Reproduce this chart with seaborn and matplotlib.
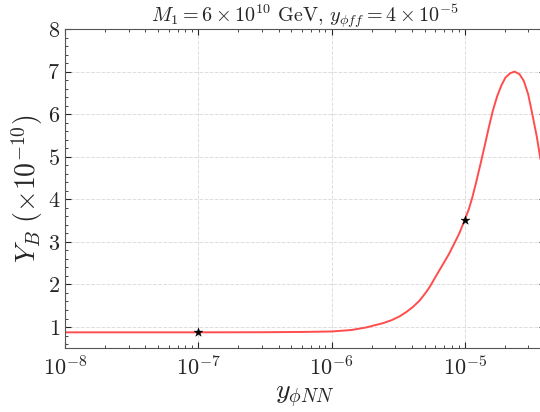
import numpy as np
import pandas as pd
import matplotlib
matplotlib.use("Agg")
import matplotlib.pyplot as plt
import seaborn as sns

# Data (log10 of y_phiNN, Y_B in units of 1e-10)
log_y_phiNN = [-8.0, -7.0, -6.5, -6.2, -6.0, -5.85, -5.74, -5.615, -5.55, -5.49,
               -5.44, -5.39, -5.34, -5.29, -5.26, -5.2325, -5.195, -5.1575, -5.12, -5.0825,
               -5.04, -5.0, -4.97, -4.945, -4.915, -4.8825, -4.85, -4.82, -4.79, -4.7575,
               -4.725, -4.695, -4.66, -4.6275, -4.59, -4.5575, -4.525, -4.495, -4.46, -4.4325]
Y_B = [0.875, 0.875, 0.878, 0.885, 0.895, 0.93, 0.99, 1.09, 1.16, 1.25,
       1.35, 1.47, 1.62, 1.82, 1.96, 2.11, 2.31, 2.51, 2.71, 2.94,
       3.21, 3.52, 3.77, 4.03, 4.40, 4.83, 5.27, 5.69, 6.08, 6.42,
       6.68, 6.86, 6.96, 7.0, 6.94, 6.78, 6.47, 6.02, 5.47, 4.94]
star_x = [1e-7, 1e-5]
star_y = [0.875, 3.52]

sns.set_style("ticks")
plt.rcParams.update({
    "font.family": "serif",
    "font.serif": ["cmr10", "DejaVu Serif"],
    "mathtext.fontset": "cm",
    "axes.formatter.use_mathtext": True,
    "xtick.direction": "in",
    "ytick.direction": "in",
    "xtick.top": True,
    "ytick.right": True,
    "xtick.minor.visible": True,
    "ytick.minor.visible": True,
    "xtick.major.size": 4,
    "ytick.major.size": 4,
    "xtick.minor.size": 2,
    "ytick.minor.size": 2,
    "axes.edgecolor": "#555555",
    "axes.linewidth": 0.8,
})

df = pd.DataFrame({"x": [10 ** v for v in log_y_phiNN], "Y": Y_B})
stars = pd.DataFrame({"x": star_x, "Y": star_y})

fig = plt.figure(figsize=(5.4, 4.12), dpi=100)
ax = fig.add_axes([0.1204, 0.1546, 0.889, 0.775])

sns.lineplot(data=df, x="x", y="Y", ax=ax, color="#ff4d4d", linewidth=1.4, sort=False)
sns.scatterplot(data=stars, x="x", y="Y", ax=ax, marker="*", color="black",
                s=45, edgecolor="black", linewidth=0.3, zorder=5)

ax.set_xscale("log")
ax.set_xlim(1e-8, 4e-5)
ax.set_ylim(0.5, 8)
ax.set_yticks([1, 2, 3, 4, 5, 6, 7, 8])
ax.grid(True, which="major", linestyle="--", color="#dddddd", linewidth=0.7)
ax.tick_params(labelsize=16)
ax.tick_params(axis="x", pad=5)
ax.set_xlabel(r"$y_{\phi NN}$", fontsize=20, labelpad=3)
ax.set_ylabel(r"$Y_B\ (\times 10^{-10})$", fontsize=20, labelpad=2)
fig.text(0.5648, 0.945,
         r"$M_1 = 6 \times 10^{10}$ GeV, $y_{\phi ff} = 4 \times 10^{-5}$",
         fontsize=14.5, ha="center", va="baseline")

fig.savefig("out.png", dpi=100)
